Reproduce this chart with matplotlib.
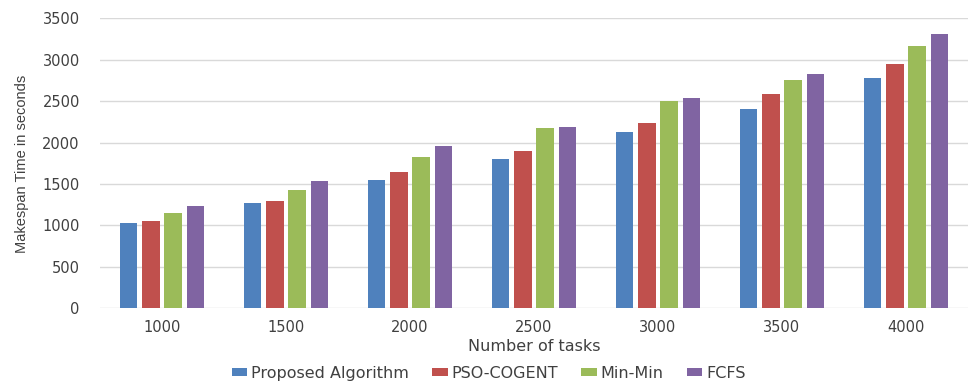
import matplotlib.pyplot as plt
import numpy as np

tasks = ["1000", "1500", "2000", "2500", "3000", "3500", "4000"]
proposed = [1030, 1270, 1550, 1800, 2130, 2400, 2780]
pso_cogent = [1050, 1300, 1640, 1900, 2240, 2590, 2950]
min_min = [1150, 1430, 1830, 2170, 2500, 2760, 3170]
fcfs = [1230, 1540, 1960, 2190, 2540, 2830, 3310]

series = [
    ("Proposed Algorithm", proposed, "#4F81BD"),
    ("PSO-COGENT", pso_cogent, "#C0504D"),
    ("Min-Min", min_min, "#9BBB59"),
    ("FCFS", fcfs, "#8064A2"),
]

TEXT = "#404040"

fig = plt.figure(figsize=(9.68, 3.81), dpi=100)
ax = fig.add_axes([0.1033, 0.191, 0.8967, 0.761])

x = np.arange(len(tasks))
pitch = 0.179
width = 0.14
handles = []
for i, (name, vals, color) in enumerate(series):
    b = ax.bar(x + (i - 1.5) * pitch, vals, width=width, color=color, label=name, zorder=3)
    handles.append(b)

ax.set_xlim(-0.5, len(tasks) - 0.5)
ax.set_ylim(0, 3500)
ax.set_yticks(range(0, 3501, 500))
ax.set_xticks(x)
ax.set_xticklabels(tasks)
ax.yaxis.grid(True, color="#D9D9D9", linewidth=1.0, zorder=0)
ax.set_axisbelow(True)
for side in ["top", "right", "left", "bottom"]:
    ax.spines[side].set_visible(False)
ax.tick_params(axis="both", length=0, labelsize=10.5, labelcolor=TEXT)
ax.tick_params(axis="y", pad=14.5)
ax.tick_params(axis="x", pad=8.5)

ax.set_xlabel("Number of tasks", fontsize=11.5, color=TEXT, labelpad=3)
fig.text(0.023, 0.57, "Makespan Time in seconds", rotation=90, ha="center", va="center",
         fontsize=10.5, color=TEXT, family=["Liberation Sans", "DejaVu Sans"])

fig.legend(handles=handles, loc="center", bbox_to_anchor=(0.505, 0.02), ncol=4, frameon=False,
           fontsize=11.5, handlelength=0.95, handleheight=0.45, handletextpad=0.25,
           columnspacing=1.45, labelcolor=TEXT)

fig.savefig("out.png", dpi=100)
